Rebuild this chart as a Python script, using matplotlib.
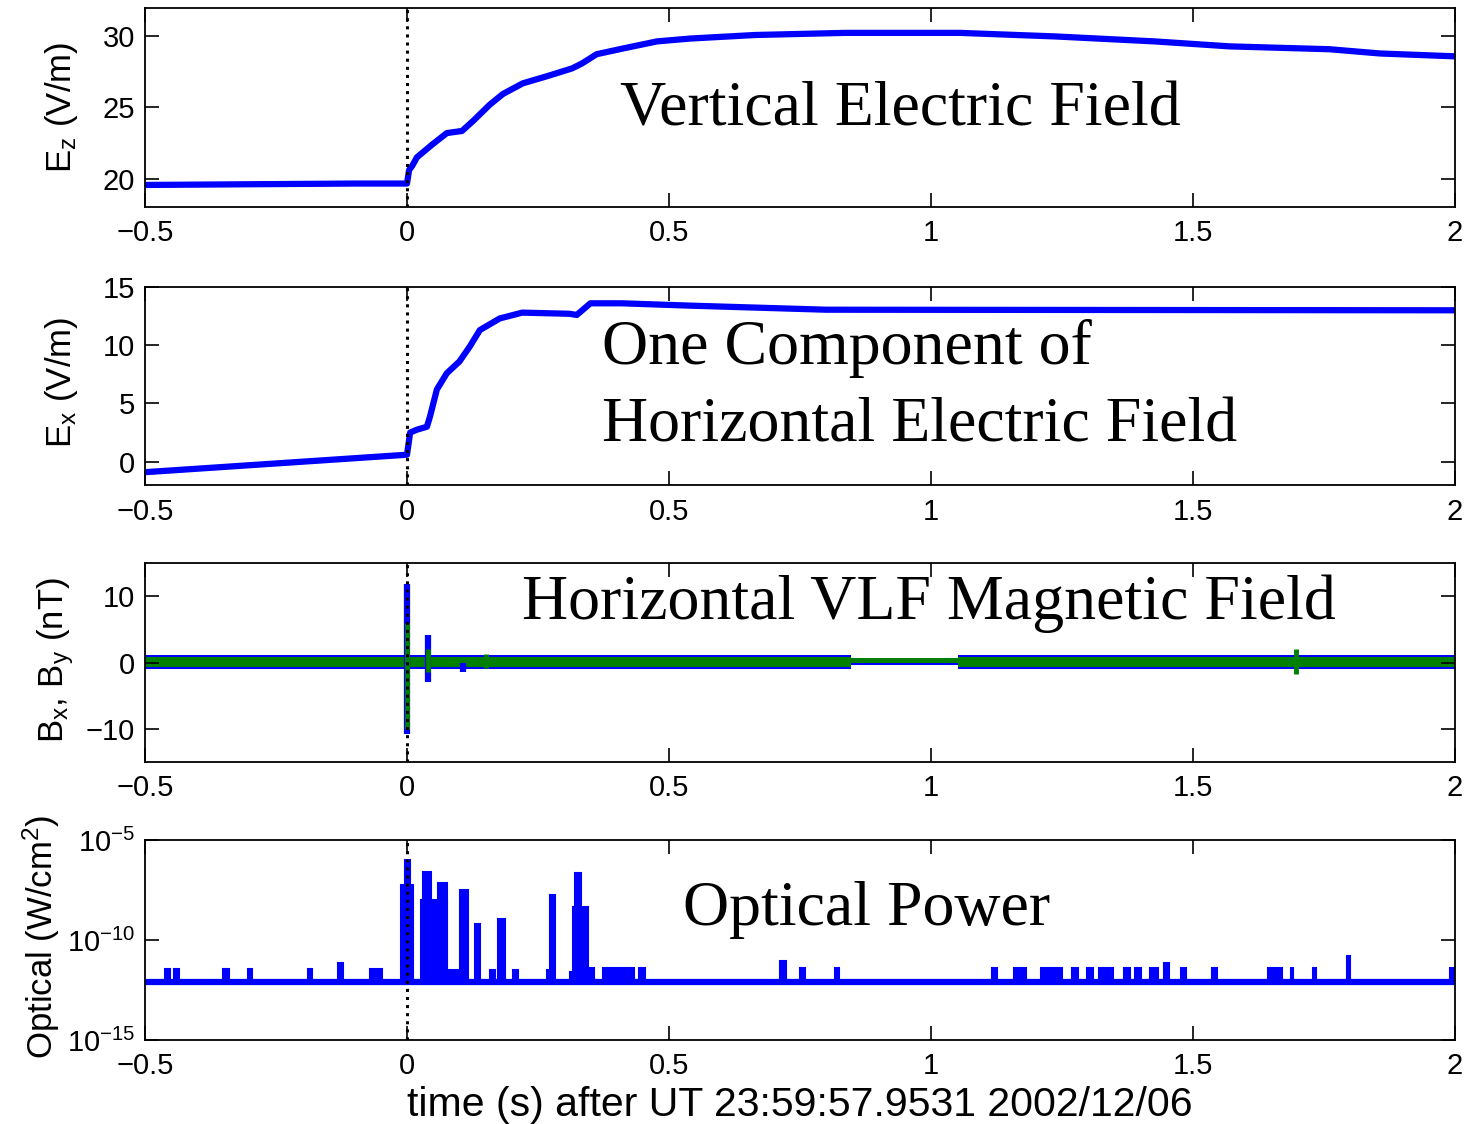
import numpy as np
import matplotlib.pyplot as plt

plt.rcParams['font.family'] = ['Liberation Sans', 'DejaVu Sans']
plt.rcParams['mathtext.fontset'] = 'custom'
plt.rcParams['mathtext.rm'] = 'Liberation Sans'
plt.rcParams['mathtext.it'] = 'Liberation Sans:italic'

# ось времени
x_ticks = [-0.5, 0, 0.5, 1, 1.5, 2]
x_tick_labels = ['\u22120.5', '0', '0.5', '1', '1.5', '2']

# вертикальное поле Ez
ez_t = [-0.5, -0.3, -0.1, 0.0, 0.004, 0.01, 0.019, 0.05, 0.076, 0.105, 0.126, 0.158,
        0.183, 0.221, 0.267, 0.315, 0.334, 0.362, 0.412, 0.477, 0.54, 0.664, 0.836,
        1.055, 1.237, 1.427, 1.57, 1.76, 1.857, 2.0]
ez_v = [19.55, 19.6, 19.65, 19.65, 20.6, 20.9, 21.5, 22.45, 23.2, 23.35, 24.05, 25.2,
        25.95, 26.7, 27.2, 27.75, 28.1, 28.75, 29.15, 29.65, 29.85, 30.1, 30.25,
        30.25, 30.0, 29.65, 29.3, 29.1, 28.8, 28.6]

# горизонтальное поле Ex
ex_t = [-0.5, 0.0, 0.006, 0.019, 0.038, 0.044, 0.057, 0.076, 0.10, 0.12, 0.139,
        0.177, 0.22, 0.31, 0.324, 0.35, 0.41, 0.54, 0.8, 2.0]
ex_v = [-0.9, 0.6, 2.5, 2.75, 3.0, 3.9, 6.2, 7.6, 8.6, 9.9, 11.3,
        12.3, 12.8, 12.7, 12.6, 13.6, 13.6, 13.4, 13.05, 13.0]

# магнитное поле: полоса шума (ступеньки) и выбросы
b_seg_t = [-0.5, 0.848, 1.052, 2.0]
bx_hi = [1.1, 0.0, 1.1, 1.1]
bx_lo = [-1.0, -0.4, -1.0, -1.0]
by_hi = [0.85, 0.75, 0.85, 0.85]
by_lo = [-0.75, 0.0, -0.75, -0.75]
bx_spike_t = [0.0, 0.04, 0.107]
bx_spike_hi = [11.8, 4.2, 0.0]
bx_spike_lo = [-10.8, -2.9, -1.5]
by_spike_t = [0.0, 0.04, 0.15, 1.697]
by_spike_hi = [6.0, 2.0, 1.3, 2.0]
by_spike_lo = [-10.0, -1.5, -0.8, -1.8]

# оптическая мощность: фон и импульсы (показатель степени 10)
opt_base = -12.1
opt_start = [-0.012, -0.004, 0.027, 0.030, 0.060, 0.101, 0.130, 0.174, 0.273, 0.317, 0.320,
             -0.462, -0.445, -0.351, -0.303, -0.189, -0.132, -0.070,
             0.078, 0.158, 0.202, 0.267, 0.311, 0.345, 0.374, 0.443,
             0.712, 0.750, 0.817, 1.116, 1.158, 1.210, 1.270, 1.297, 1.320, 1.368,
             1.390, 1.418, 1.445, 1.477, 1.536, 1.643, 1.687, 1.729, 1.794, 1.990]
opt_end = [0.012, 0.006, 0.076, 0.046, 0.077, 0.116, 0.139, 0.187, 0.283, 0.345, 0.333,
           -0.452, -0.435, -0.340, -0.296, -0.181, -0.122, -0.048,
           0.097, 0.168, 0.212, 0.273, 0.317, 0.357, 0.433, 0.454,
           0.723, 0.760, 0.825, 1.126, 1.181, 1.250, 1.280, 1.309, 1.347, 1.380,
           1.400, 1.433, 1.454, 1.487, 1.546, 1.670, 1.690, 1.735, 1.800, 2.000]
opt_peak = [-7.25, -6.0, -8.0, -6.6, -7.15, -7.5, -9.2, -8.95, -7.75, -8.35, -6.65,
            -11.45, -11.45, -11.45, -11.45, -11.45, -11.15, -11.45,
            -11.5, -11.5, -11.5, -11.5, -11.6, -11.4, -11.4, -11.4,
            -11.05, -11.4, -11.4, -11.4, -11.4, -11.4, -11.4, -11.4, -11.4, -11.4,
            -11.4, -11.4, -11.15, -11.4, -11.4, -11.4, -11.4, -11.4, -10.8, -11.4]

fig = plt.figure(figsize=(14.67, 11.24), dpi=100)
W, H = 1467.0, 1124.0
left, width = 145 / W, 1310 / W
tops = [8, 287, 563, 840]
bottoms = [207, 485, 762, 1040]
axes = [fig.add_axes([left, 1 - b / H, width, (b - t) / H]) for t, b in zip(tops, bottoms)]

for ax in axes:
    ax.set_xlim(-0.5, 2)
    ax.set_xticks(x_ticks)
    ax.set_xticklabels(x_tick_labels)
    ax.tick_params(direction='in', length=10, width=1.2, top=True, right=True,
                   labelsize=21, colors='k')
    ax.tick_params(axis='x', pad=9)
    ax.tick_params(axis='y', pad=7)
    for s in ax.spines.values():
        s.set_linewidth(1.3)
    ax.axvline(0, color='k', ls=':', lw=2.2, zorder=5)

serif = 'Liberation Serif'
ts = 46
ls = 25

# панель 1
ax = axes[0]
ax.plot(ez_t, ez_v, color='b', lw=4.5)
ax.set_ylim(18, 32)
ax.set_yticks([20, 25, 30])
ax.set_ylabel('$\\mathregular{E_z}$ (V/m)', fontsize=ls)
ax.yaxis.set_label_coords(-0.050, 0.5)
ax.text(0.406, 24.8, 'Vertical Electric Field', family=serif, fontsize=ts, va='center')

# панель 2
ax = axes[1]
ax.plot(ex_t, ex_v, color='b', lw=4.5)
ax.set_ylim(-2, 15)
ax.set_yticks([0, 5, 10, 15])
ax.set_ylabel('$\\mathregular{E_x}$ (V/m)', fontsize=ls)
ax.yaxis.set_label_coords(-0.050, 0.52)
ax.text(0.372, 9.7, 'One Component of', family=serif, fontsize=ts, va='center')
ax.text(0.372, 3.0, 'Horizontal Electric Field', family=serif, fontsize=ts, va='center')

# панель 3
ax = axes[2]
ax.fill_between(b_seg_t, bx_lo, bx_hi, step='post', color='b', lw=0)
ax.vlines(bx_spike_t, bx_spike_lo, bx_spike_hi, color='b', lw=4.5)
ax.fill_between(b_seg_t, by_lo, by_hi, step='post', color=(0, 0.5, 0), lw=0)
ax.vlines(by_spike_t, by_spike_lo, by_spike_hi, color=(0, 0.5, 0), lw=3.5)
ax.set_ylim(-15, 15)
ax.set_yticks([-10, 0, 10])
ax.set_yticklabels(['\u221210', '0', '10'])
ax.set_ylabel('$\\mathregular{B_x}$, $\\mathregular{B_y}$ (nT)', fontsize=ls)
ax.yaxis.set_label_coords(-0.053, 0.51)
ax.text(0.219, 8.8, 'Horizontal VLF Magnetic Field', family=serif, fontsize=ts, va='center')

# панель 4
ax = axes[3]
ax.set_yscale('log')
base = 10 ** opt_base
ax.plot([-0.5, 2.0], [base, base], color='b', lw=4.5)
st = np.array(opt_start)
en = np.array(opt_end)
pk = 10 ** np.array(opt_peak)
ax.bar(st, pk - base, width=en - st, bottom=base, align='edge', color='b',
       edgecolor='b', linewidth=1.5)
ax.set_ylim(1e-15, 1e-5)
ax.set_yticks([1e-15, 1e-10, 1e-5])
ax.set_yticklabels(['$\\mathregular{10^{-15}}$', '$\\mathregular{10^{-10}}$',
                    '$\\mathregular{10^{-5}}$'])
ax.minorticks_off()
ax.set_ylabel('Optical (W/cm$\\mathregular{^2}$)', fontsize=ls)
ax.yaxis.set_label_coords(-0.063, 0.515)
ax.text(0.527, 10 ** -8.5, 'Optical Power', family=serif, fontsize=ts, va='center')

fig.text(800 / W, 1 - 1105 / H, 'time (s) after UT 23:59:57.9531 2002/12/06',
         ha='center', va='center', fontsize=29.5)

fig.savefig('out.png', dpi=100)
